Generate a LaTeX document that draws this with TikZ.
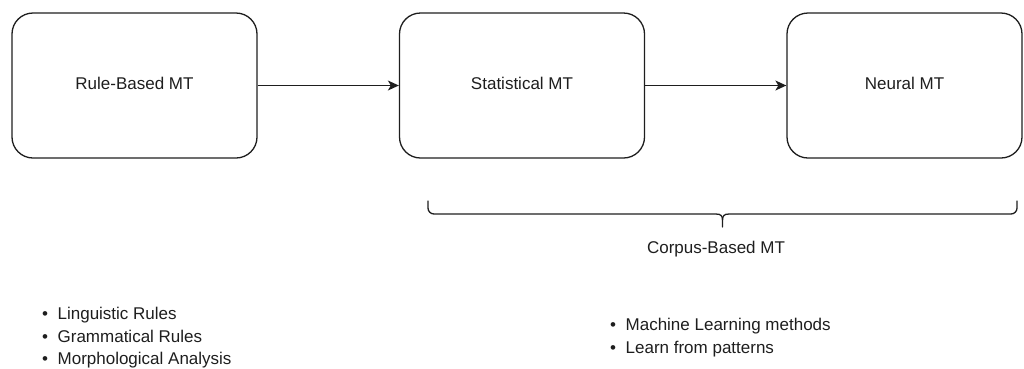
\documentclass[tikz,border=0pt]{standalone}
\usepackage{fontspec}
\setmainfont{Liberation Sans}
\usetikzlibrary{arrows.meta}
\definecolor{ink}{RGB}{30,30,30}
\begin{document}
\begin{tikzpicture}[x=1pt,y=-1pt,
  stage/.style={draw=ink, line width=1.3pt, rounded corners=21pt, minimum width=245pt, minimum height=145pt, inner sep=0pt},
  lbl/.style={font=\fontsize{17}{20}\selectfont, text=ink, inner sep=0pt},
  flow/.style={draw=ink, line width=1.3pt, -{Stealth[length=11pt,width=10pt,inset=3pt]}},
  bracket/.style={draw=ink, line width=1.3pt, line cap=round}]
\useasboundingbox (0,0) rectangle (1024,368);

% stages
\node[stage] (rb) at (134.5,85.5) {};
\node[stage] (st) at (522,85.5) {};
\node[stage, minimum width=235pt] (nm) at (904.5,85.5) {};
\node[lbl, anchor=base] (rbt) at (134.5,89) {Rule-Based MT};
\node[lbl, anchor=base] (stt) at (522,89) {Statistical MT};
\node[lbl, anchor=base] (nmt) at (904.5,89) {Neural MT};

% progression arrows
\draw[flow] (rb.east) -- (st.west);
\draw[flow] (st.east) -- (nm.west);

% curly bracket under the corpus-based stages
\coordinate (bl) at (428,201);
\coordinate (br) at (1017,201);
\coordinate (bt) at (722.5,227);
\draw[bracket] (bl) -- (428,208) arc[start angle=180, end angle=90, radius=6] -- (716,214)
  .. controls (721,214) and (722.5,216) .. (722.5,220) -- (bt);
\draw[bracket] (br) -- (1017,208) arc[start angle=0, end angle=90, radius=6] -- (729,214)
  .. controls (724,214) and (722.5,216) .. (722.5,220);
\node[lbl, anchor=base] (corpus) at (716,253) {Corpus-Based MT};

% feature lists
\node[lbl, anchor=base west] (l1) at (42,319.5) {•\hspace{9.5pt}Linguistic Rules};
\node[lbl, anchor=base west] (l2) at (42,342) {•\hspace{9.5pt}Grammatical Rules};
\node[lbl, anchor=base west] (l3) at (42,364.5) {•\hspace{9.5pt}Morphological Analysis};
\node[lbl, anchor=base west] (r1) at (610,330.5) {•\hspace{9.5pt}Machine Learning methods};
\node[lbl, anchor=base west] (r2) at (610,353) {•\hspace{9.5pt}Learn from patterns};
\end{tikzpicture}
\end{document}
